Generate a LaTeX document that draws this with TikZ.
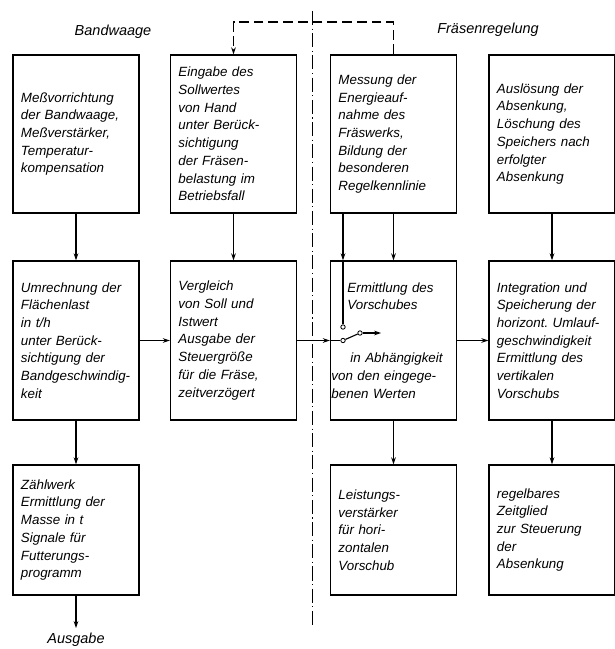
\documentclass[tikz,border=0pt]{standalone}
\usepackage{fontspec}
\setmainfont{Liberation Sans}
\usetikzlibrary{arrows.meta}
\frenchspacing

\tikzset{
  block/.style={draw, line width=1pt, minimum width=3.15cm, text width=2.75cm,
    inner xsep=0.2cm, align=left, font=\itshape\fontsize{9.5}{12.6}\selectfont},
  titel/.style={font=\itshape\fontsize{10.3}{12}\selectfont},
  kontakt/.style={draw, circle, line width=0.6pt, inner sep=0pt, minimum size=0.11cm, fill=white},
  trennlinie/.style={line width=0.7pt, dash pattern=on 10pt off 2.5pt on 0.8pt off 2.5pt},
  rueck/.style={dashed, dash pattern=on 7pt off 3.5pt},
}

\begin{document}
\begin{tikzpicture}[x=0.025cm, y=-0.025cm, line width=0.8pt,
    >={Stealth[length=5pt,width=3.4pt]}]
    \useasboundingbox (0,0) rectangle (615,649);
    % Ueberschriften
    \node[titel] (tbw) at (113,32) {Bandwaage};
    \node[titel] (tfr) at (488,30) {Fräsenregelung};
    % erste Reihe
    \node[block, minimum height=3.95cm] (mess) at (76,134) {Meßvorrichtung\\der Bandwaage,\\Meßverstärker,\\Temperatur-\\kompensation};
    \node[block, minimum height=3.95cm] (soll) at (233.5,134) {Eingabe des\\Sollwertes\\von Hand\\unter Berück-\\sichtigung\\der Fräsen-\\belastung im\\Betriebsfall};
    \node[block, minimum height=3.95cm] (energie) at (393.5,134) {Messung der\\Energieauf-\\nahme des\\Fräswerks,\\Bildung der\\besonderen\\Regelkennlinie};
    \node[block, minimum height=3.95cm] (ausloes) at (552,134) {Auslösung der\\Absenkung,\\Löschung des\\Speichers nach\\erfolgter\\Absenkung};
    % zweite Reihe
    \node[block, minimum height=3.975cm] (umrech) at (76,340.5) {Umrechnung der\\Flächenlast\\in t/h\\unter Berück-\\sichtigung der\\Bandgeschwindig-\\keit};
    \node[block, minimum height=3.975cm] (vergl) at (233.5,340.5) {Vergleich\\von Soll und\\Istwert\\Ausgabe der\\Steuergröße\\für die Fräse,\\zeitverzögert};
    \node[block, minimum height=3.975cm] (vorsch) at (393.5,340.5) {\hspace*{0.225cm}Ermittlung des\\\hspace*{0.225cm}Vorschubes\\[25.2pt]\hspace*{0.3cm}in Abhängigkeit\\\hspace*{-0.175cm}von den eingege-\\\hspace*{-0.175cm}benen Werten};
    \node[block, minimum height=3.975cm] (integr) at (552,340.5) {Integration und\\Speicherung der\\horizont. Umlauf-\\geschwindigkeit\\Ermittlung des\\vertikalen\\Vorschubs};
    % dritte Reihe
    \node[block, minimum height=3.25cm] (zaehl) at (76,530) {Zählwerk\\Ermittlung der\\Masse in t\\Signale für\\Futterungs-\\programm};
    \node[block, minimum height=3.25cm] (leist) at (393.5,530) {Leistungs-\\verstärker\\für hori-\\zontalen\\Vorschub};
    \node[block, minimum height=3.25cm] (zeitgl) at (552,530) {regelbares\\Zeitglied\\zur Steuerung\\der\\Absenkung};
    \node[titel] (ausg) at (76,640) {Ausgabe};
    % Schalter
    \node[kontakt] (sa) at (343,327) {};
    \node[kontakt] (sb) at (343,340.5) {};
    \node[kontakt] (sc) at (360,333) {};
    \coordinate (sq) at (381,333);
    \coordinate (fb) at (233.5,22);
    % Trennlinie
    \draw[trennlinie] (312,11) -- (312,625);
    % Verbindungen
    \draw[->] (mess) -- (umrech);
    \draw[->] (soll) -- (vergl);
    \draw[->] (energie) -- (vorsch);
    \draw[->] (ausloes) -- (integr);
    \draw[->] (umrech) -- (vergl);
    \draw[->] (vergl) -- (vorsch);
    \draw[->] (vorsch) -- (integr);
    \draw[->] (umrech) -- (zaehl);
    \draw[->] (vorsch) -- (leist);
    \draw[->] (integr) -- (zeitgl);
    \draw[->] (zaehl) -- (ausg);
    \draw[->] (energie.south -| sa) -- (vorsch.north -| sa);
    \draw (vorsch.north -| sa) -- (sa);
    \draw (vorsch.west) -- (sb);
    \draw (sb) -- (sc);
    \draw[->] (sc) -- (sq);
    \draw[rueck, ->] (energie.north) |- (fb) -- (soll.north);
\end{tikzpicture}
\end{document}
